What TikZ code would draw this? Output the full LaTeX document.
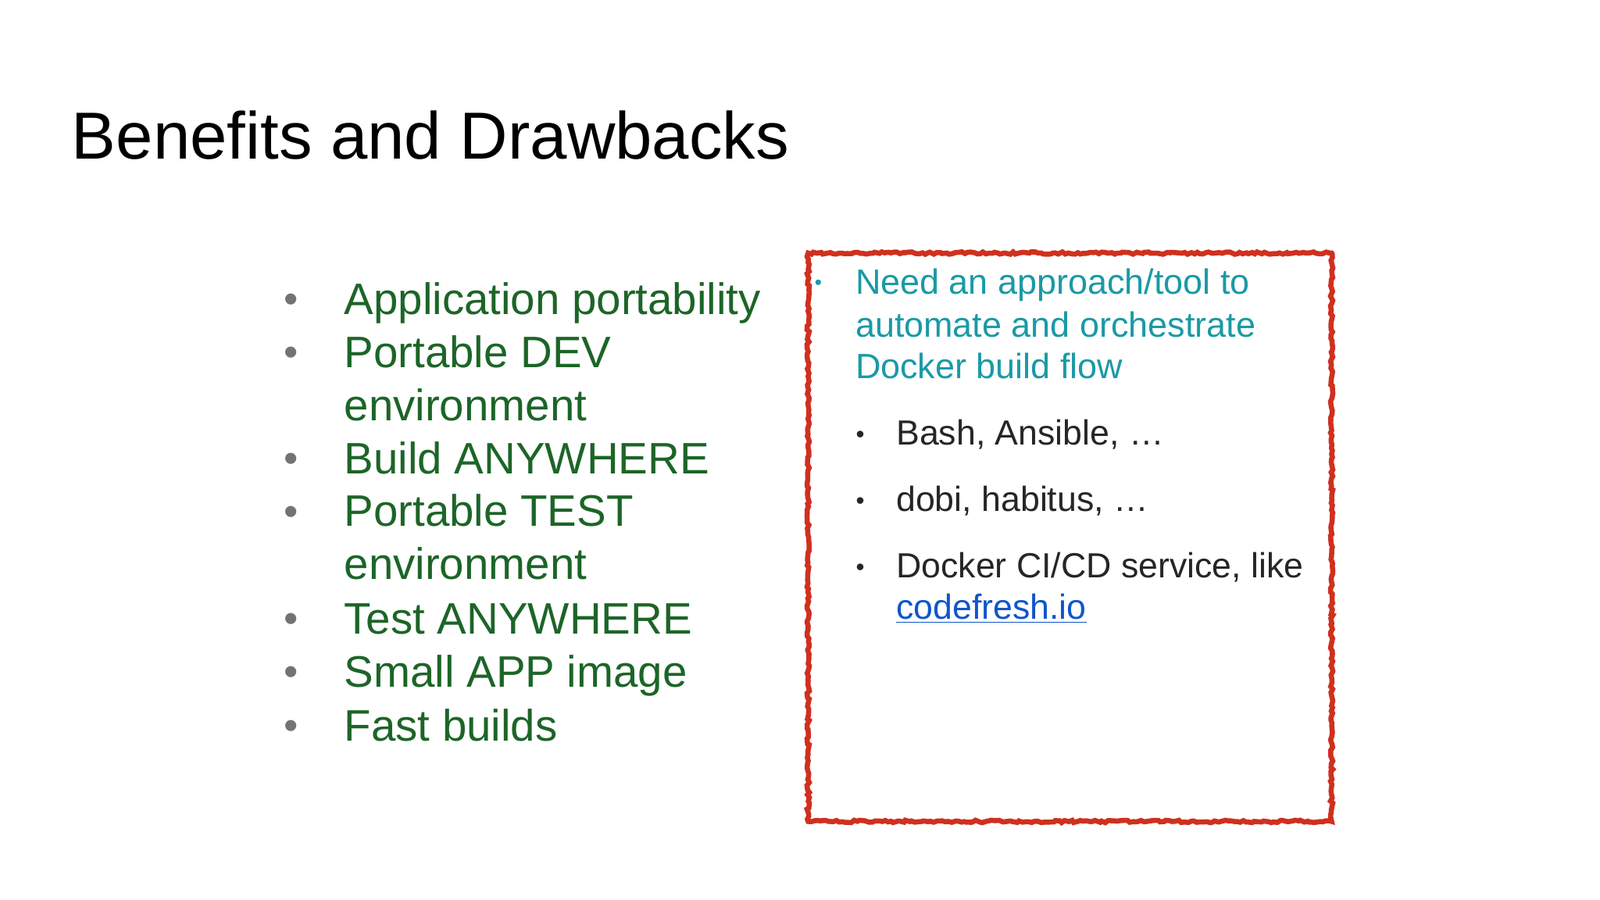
\documentclass[tikz,border=0pt]{standalone}
\usepackage{fontspec}
\setmainfont{Liberation Sans}
\usetikzlibrary{decorations.pathmorphing}
\definecolor{gr}{HTML}{1C6527}
\definecolor{tl}{HTML}{1A9AA6}
\definecolor{lk}{HTML}{1155CC}
\definecolor{rd}{HTML}{D0301E}
\tikzset{
 g/.style={anchor=base west,inner sep=0,text=gr,font=\fontsize{21.6}{26}\selectfont},
 gb/.style={anchor=base,inner sep=0,text=gray!90!black,font=\fontsize{20}{24}\selectfont},
 t/.style={anchor=base west,inner sep=0,text=tl,font=\fontsize{17.2}{20}\selectfont},
 k/.style={anchor=base west,inner sep=0,text=black!85,font=\fontsize{17.1}{20}\selectfont},
 kb/.style={anchor=base,inner sep=0,text=black!85,font=\fontsize{12}{14}\selectfont},
}
\begin{document}
\begin{tikzpicture}[x=0.5pt,y=-0.5pt]
\useasboundingbox[fill=white] (0,0) rectangle (1568,882);
\node[anchor=base west,inner sep=0,font=\fontsize{32.6}{40}\selectfont] (title) at (70,156) {Benefits and Drawbacks};
\foreach \n/\y/\s in {a/308,b/360,c/412,d/464,e/516,f/568,h/621,i/673,j/726}{}
\foreach \n/\y/\s in {a/308/Application portability,b/360/Portable DEV,c/412/environment,d/464/Build ANYWHERE,e/516/Portable TEST,f/568/environment,h/621/Test ANYWHERE,i/673/Small APP image,j/726/Fast builds}{
 \node[g] (\n) at (337,\y) {\s};}
\foreach \n/\y in {a/307,b/359,d/463,e/515,h/620,i/672,j/725}{
 \node[gb] (b\n) at (285,\y) {•};}
\draw[rd,line width=2.5pt,decorate,decoration={random steps,segment length=1.5pt,amplitude=0.6pt}] (792,248) rectangle (1305,805);
\node[t] (t1) at (838,288) {Need an approach/tool to};
\node[t] (t2) at (838,330) {automate and orchestrate};
\node[t] (t3) at (838,371) {Docker build flow};
\node[anchor=base,inner sep=0,text=tl,font=\fontsize{10}{12}\selectfont] (tb) at (802,284) {•};
\node[k] (k1) at (878,436) {Bash, Ansible, …};
\node[k] (k2) at (878,501) {dobi, habitus, …};
\node[k] (k3) at (878,566) {Docker CI/CD service, like};
\node[k,text=lk] (k4) at (878,607) {\underline{codefresh.io}};
\node[kb] (kb1) at (843,434) {•};
\node[kb] (kb2) at (843,499) {•};
\node[kb] (kb3) at (843,564) {•};
\end{tikzpicture}
\end{document}
